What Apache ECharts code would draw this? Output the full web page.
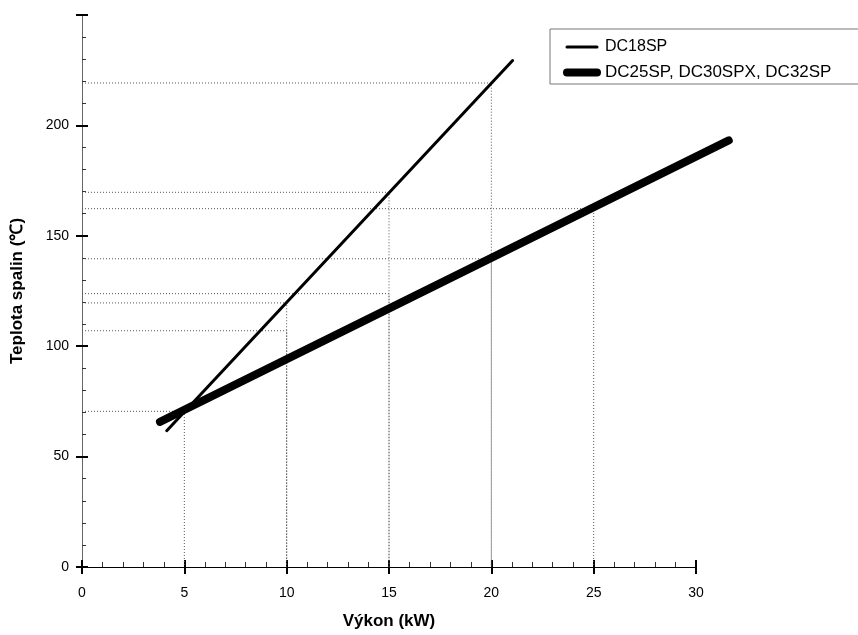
<!DOCTYPE html>
<html>
<head>
<meta charset="utf-8">
<script src="https://cdn.jsdelivr.net/npm/echarts@6/dist/echarts.min.js"></script>
<style>
  html, body { margin: 0; padding: 0; background: #fff; }
  #main { width: 858px; height: 635px; }
</style>
</head>
<body>
<div id="main"></div>
<script>
// series names
var seriesNames = ["DC18SP", "DC25SP, DC30SPX, DC32SP"];

// DC18SP line (kW, °C)
var thinX = [4.14, 21.04];
var thinY = [61.7, 229.4];

// DC25SP / DC30SPX / DC32SP line
var thickX = [3.81, 31.6];
var thickY = [65.7, 193.2];

// dotted reading guides (point on curve -> down to x axis, left to y axis)
var guideX = [5, 10, 10, 15, 15, 20, 20, 25];
var guideY = [70.5, 119.6, 107, 169.7, 123.8, 219.2, 139.6, 162.3];

var font = "'Liberation Sans', Arial, sans-serif";

function pairs(xs, ys) {
  return xs.map(function (x, i) { return [x, ys[i]]; });
}

var myChart = echarts.init(document.getElementById("main"));

// the visible axis stops at 30 but the curves run past it,
// so the curves sit on a hidden grid with the same scale that reaches 32
var gridLeft = 82, gridRight = 162, plotW = 858 - gridLeft - gridRight;
var pxPerUnit = plotW / 30;

var guideSeries = guideX.map(function (x, i) {
  return {
    type: "line",
    silent: true,
    symbol: "none",
    z: 1,
    data: [[0, guideY[i]], [x, guideY[i]], [x, 0]],
    lineStyle: { color: "#555", width: 1, type: [1, 2] }
  };
});

var hiddenAxis = { show: false };

var option = {
  animation: false,
  textStyle: { fontFamily: font },
  grid: [
    { left: gridLeft, right: gridRight, top: 15, bottom: 68 },
    { left: gridLeft, right: gridRight - 2 * pxPerUnit, top: 15, bottom: 68 }
  ],
  legend: {
    orient: "vertical",
    left: 550,
    top: 29,
    padding: [10, 60, 3, 13],
    itemWidth: 30,
    itemHeight: 14,
    itemGap: 9,
    backgroundColor: "#fff",
    borderColor: "#777",
    borderWidth: 1,
    borderRadius: 0,
    selectedMode: false,
    textStyle: { fontFamily: font, fontSize: 16, color: "#000", padding: [0, 0, 0, 3] },
    data: [
      { name: seriesNames[0], itemStyle: { opacity: 0 }, lineStyle: { width: 3, color: "#000", cap: "round" } },
      { name: seriesNames[1], itemStyle: { opacity: 0 }, lineStyle: { width: 8, color: "#000", cap: "round" },
        textStyle: { fontSize: 17 } }
    ]
  },
  xAxis: [
    {
      type: "value",
      gridIndex: 0,
      position: "bottom",
      min: 0,
      max: 30,
      interval: 5,
      name: "Výkon (kW)",
      nameLocation: "middle",
      nameGap: 46,
      nameTextStyle: { fontFamily: font, fontSize: 17, fontWeight: "bold", color: "#000" },
      axisLine: { show: true, lineStyle: { color: "#000", width: 1 } },
      axisTick: { show: true, inside: true, length: 7, lineStyle: { color: "#000", width: 2 } },
      minorTick: { show: true, splitNumber: 5, length: 5, lineStyle: { color: "#333", width: 1 } },
      axisLabel: { margin: 19, fontSize: 14, color: "#000", fontFamily: font },
      splitLine: { show: false }
    },
    {
      type: "value",
      gridIndex: 0,
      position: "bottom",
      min: 0,
      max: 30,
      interval: 5,
      axisLine: { show: false },
      axisTick: { show: true, inside: false, length: 7, lineStyle: { color: "#000", width: 2 } },
      axisLabel: { show: false },
      splitLine: { show: false }
    },
    { type: "value", gridIndex: 1, min: 0, max: 32, show: false }
  ],
  yAxis: [
    {
      type: "value",
      gridIndex: 0,
      position: "left",
      min: 0,
      max: 250,
      interval: 50,
      name: "Teplota spalin (℃)",
      nameLocation: "middle",
      nameGap: 56,
      nameTextStyle: { fontFamily: font, fontSize: 17, fontWeight: "bold", color: "#000" },
      axisLine: { show: true, lineStyle: { color: "#666", width: 1 } },
      axisTick: { show: true, inside: true, length: 6, lineStyle: { color: "#000", width: 2 } },
      minorTick: { show: true, splitNumber: 5, length: 4, lineStyle: { color: "#333", width: 1 } },
      axisLabel: { margin: 13, fontSize: 14, color: "#000", fontFamily: font, showMaxLabel: false },
      splitLine: { show: false }
    },
    {
      type: "value",
      gridIndex: 0,
      position: "left",
      min: 0,
      max: 250,
      interval: 50,
      axisLine: { show: false },
      axisTick: { show: true, inside: false, length: 6, lineStyle: { color: "#000", width: 2 } },
      axisLabel: { show: false },
      splitLine: { show: false }
    },
    { type: "value", gridIndex: 1, min: 0, max: 250, show: false }
  ],
  series: guideSeries.concat([
    {
      name: seriesNames[0],
      type: "line",
      xAxisIndex: 2,
      yAxisIndex: 2,
      symbol: "none",
      z: 3,
      data: pairs(thinX, thinY),
      lineStyle: { color: "#000", width: 3, cap: "round" },
      itemStyle: { color: "#000" }
    },
    {
      name: seriesNames[1],
      type: "line",
      xAxisIndex: 2,
      yAxisIndex: 2,
      symbol: "none",
      z: 3,
      data: pairs(thickX, thickY),
      lineStyle: { color: "#000", width: 8, cap: "round" },
      itemStyle: { color: "#000" }
    }
  ])
};

myChart.setOption(option);
</script>
</body>
</html>
